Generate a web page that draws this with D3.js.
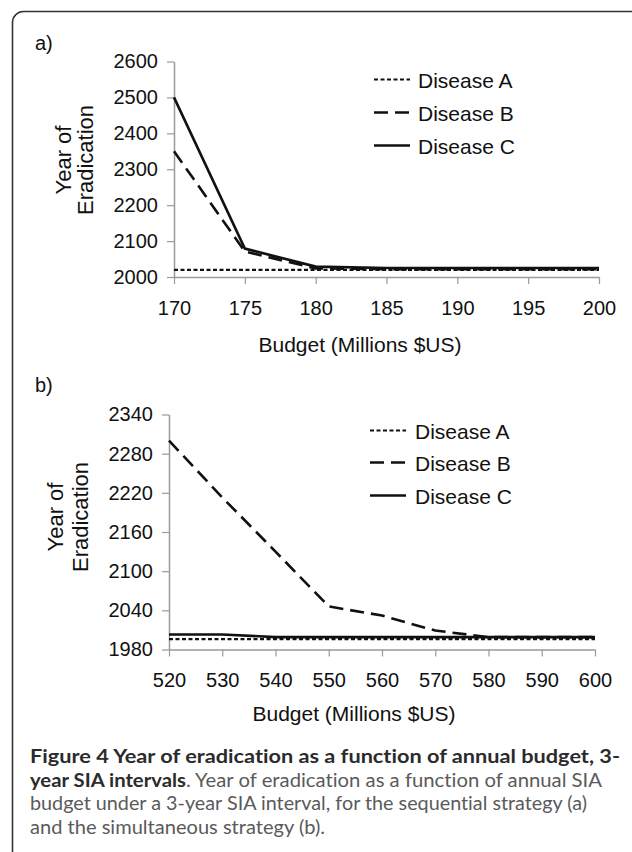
<!DOCTYPE html>
<html>
<head>
<meta charset="utf-8">
<script src="https://d3js.org/d3.v7.min.js"></script>
<style>
  body { margin: 0; background: #fff; }
  svg text { font-family: Arial, "Liberation Sans", sans-serif; fill: #111; }
  .axis .domain { stroke: #9a9a9a; stroke-width: 1.5; }
  .axis line { stroke: #9a9a9a; stroke-width: 1.2; }
  .axis text { font-size: 20px; fill: #111; }
  .cap text { font-family: Lato, "Open Sans", sans-serif; font-size: 19.5px; font-variant-ligatures: none; }
</style>
</head>
<body>
<div id="chart"></div>
<script>
// panel a: sequential strategy
var budgetA = [170, 175, 180, 185, 190, 195, 200];
var yearA_diseaseA = [2020, 2020, 2020, 2020, 2020, 2020, 2020];
var yearA_diseaseB = [2350, 2071, 2024, 2022, 2022, 2022, 2022];
var yearA_diseaseC = [2500, 2079, 2029, 2025, 2025, 2025, 2025];
var yTicksA = [2000, 2100, 2200, 2300, 2400, 2500, 2600];

// panel b: simultaneous strategy
var budgetB = [520, 530, 540, 550, 560, 570, 580, 590, 600];
var yearB_diseaseA = [1996, 1996, 1996, 1996, 1996, 1996, 1996, 1996, 1996];
var yearB_diseaseB = [2300, 2213, 2130, 2046, 2032, 2009, 1999, 1999, 1999];
var yearB_diseaseC = [2003, 2003, 1999, 1999, 1999, 1999, 1999, 1999, 1999];
var yTicksB = [1980, 2040, 2100, 2160, 2220, 2280, 2340];

var legendNames = ["Disease A", "Disease B", "Disease C"];
var dashes = ["4,2.5", "14,7", null];
var widths = [2.2, 2.6, 2.6];

var W = 632, H = 852;
var svg = d3.select("#chart").append("svg")
  .attr("width", W)
  .attr("height", H);

// rounded frame, open at the bottom of the page
svg.append("rect")
  .attr("x", 12.5).attr("y", 11.5)
  .attr("width", 640).attr("height", 900)
  .attr("rx", 11)
  .attr("fill", "none")
  .attr("stroke", "#333")
  .attr("stroke-width", 1.6);

function panel(cfg) {
  var x = d3.scaleLinear().domain(cfg.xDomain).range(cfg.xRange);
  var y = d3.scaleLinear().domain(cfg.yDomain).range(cfg.yRange);
  var g = svg.append("g");

  g.append("text")
    .attr("x", 35).attr("y", cfg.labelY)
    .style("font-size", "20px")
    .text(cfg.label);

  g.append("g")
    .attr("class", "axis")
    .attr("transform", "translate(" + cfg.xRange[0] + ",0)")
    .call(d3.axisLeft(y).tickValues(cfg.yTicks).tickSize(7).tickSizeOuter(0).tickPadding(cfg.yPad).tickFormat(d3.format("d")));

  var xAxis = g.append("g")
    .attr("class", "axis")
    .attr("transform", "translate(0," + cfg.yRange[0] + ")")
    .call(d3.axisBottom(x).tickValues(cfg.budget).tickSize(7).tickSizeOuter(0).tickFormat(d3.format("d")));
  xAxis.selectAll("text").attr("y", cfg.xLabelOff).attr("dy", "0.35em");

  g.append("text")
    .attr("text-anchor", "middle")
    .attr("x", cfg.titleX).attr("y", cfg.titleY)
    .attr("dy", "0.35em")
    .style("font-size", "21px")
    .text("Budget (Millions $US)");

  g.append("text")
    .attr("text-anchor", "middle")
    .attr("transform", "translate(" + cfg.ytX[0] + "," + cfg.ytY + ") rotate(-90)")
    .attr("dy", "0.35em")
    .style("font-size", "22px")
    .text("Year of");
  g.append("text")
    .attr("text-anchor", "middle")
    .attr("transform", "translate(" + cfg.ytX[1] + "," + cfg.ytY + ") rotate(-90)")
    .attr("dy", "0.35em")
    .style("font-size", "22px")
    .text("Eradication");

  var line = d3.line()
    .x(function(d) { return x(d[0]); })
    .y(function(d) { return y(d[1]); });

  cfg.series.forEach(function(s, i) {
    g.append("path")
      .datum(cfg.budget.map(function(b, j) { return [b, s[j]]; }))
      .attr("fill", "none")
      .attr("stroke", "#111")
      .attr("stroke-width", widths[i])
      .attr("stroke-dasharray", dashes[i])
      .attr("d", line);
  });

  var leg = g.append("g");
  legendNames.forEach(function(name, i) {
    var ly = cfg.legY[i];
    leg.append("line")
      .attr("x1", cfg.legX[0]).attr("x2", cfg.legX[1])
      .attr("y1", ly - 1.5).attr("y2", ly - 1.5)
      .attr("stroke", "#111")
      .attr("stroke-width", widths[i])
      .attr("stroke-dasharray", dashes[i]);
    leg.append("text")
      .attr("x", cfg.legX[2]).attr("y", ly)
      .attr("dy", "0.35em")
      .style("font-size", "21px")
      .text(name);
  });
}

panel({
  label: "a)", labelY: 50,
  budget: budgetA, xDomain: [170, 200], xRange: [174, 599],
  yDomain: [2000, 2600], yRange: [277, 61.5], yTicks: yTicksA, yPad: 9,
  xLabelOff: 31, titleX: 360, titleY: 345,
  ytX: [63, 85], ytY: 160,
  series: [yearA_diseaseA, yearA_diseaseB, yearA_diseaseC],
  legX: [374, 410, 418], legY: [81, 114, 147]
});

panel({
  label: "b)", labelY: 392,
  budget: budgetB, xDomain: [520, 600], xRange: [169, 595],
  yDomain: [1980, 2340], yRange: [649.5, 414.5], yTicks: yTicksB, yPad: 9,
  xLabelOff: 30.5, titleX: 354, titleY: 714,
  ytX: [55, 80], ytY: 517,
  series: [yearB_diseaseA, yearB_diseaseB, yearB_diseaseC],
  legX: [370, 406, 415], legY: [432, 464, 497]
});

// caption
var cap = svg.append("g").attr("class", "cap");
cap.append("text").attr("x", 30).attr("y", 763)
  .attr("textLength", 590).attr("lengthAdjust", "spacingAndGlyphs")
  .style("font-weight", "bold").style("fill", "#2b2b2b")
  .text("Figure 4 Year of eradication as a function of annual budget, 3-");
var t2 = cap.append("text").attr("x", 30).attr("y", 787)
  .attr("textLength", 572).attr("lengthAdjust", "spacingAndGlyphs");
t2.append("tspan").style("font-weight", "bold").style("fill", "#2b2b2b").text("year SIA intervals");
t2.append("tspan").style("fill", "#5a5a5a").text(". Year of eradication as a function of annual SIA");
cap.append("text").attr("x", 30).attr("y", 810)
  .attr("textLength", 557).attr("lengthAdjust", "spacingAndGlyphs")
  .style("fill", "#5a5a5a")
  .text("budget under a 3-year SIA interval, for the sequential strategy (a)");
cap.append("text").attr("x", 30).attr("y", 834)
  .attr("textLength", 295).attr("lengthAdjust", "spacingAndGlyphs")
  .style("fill", "#5a5a5a")
  .text("and the simultaneous strategy (b).");
</script>
</body>
</html>
